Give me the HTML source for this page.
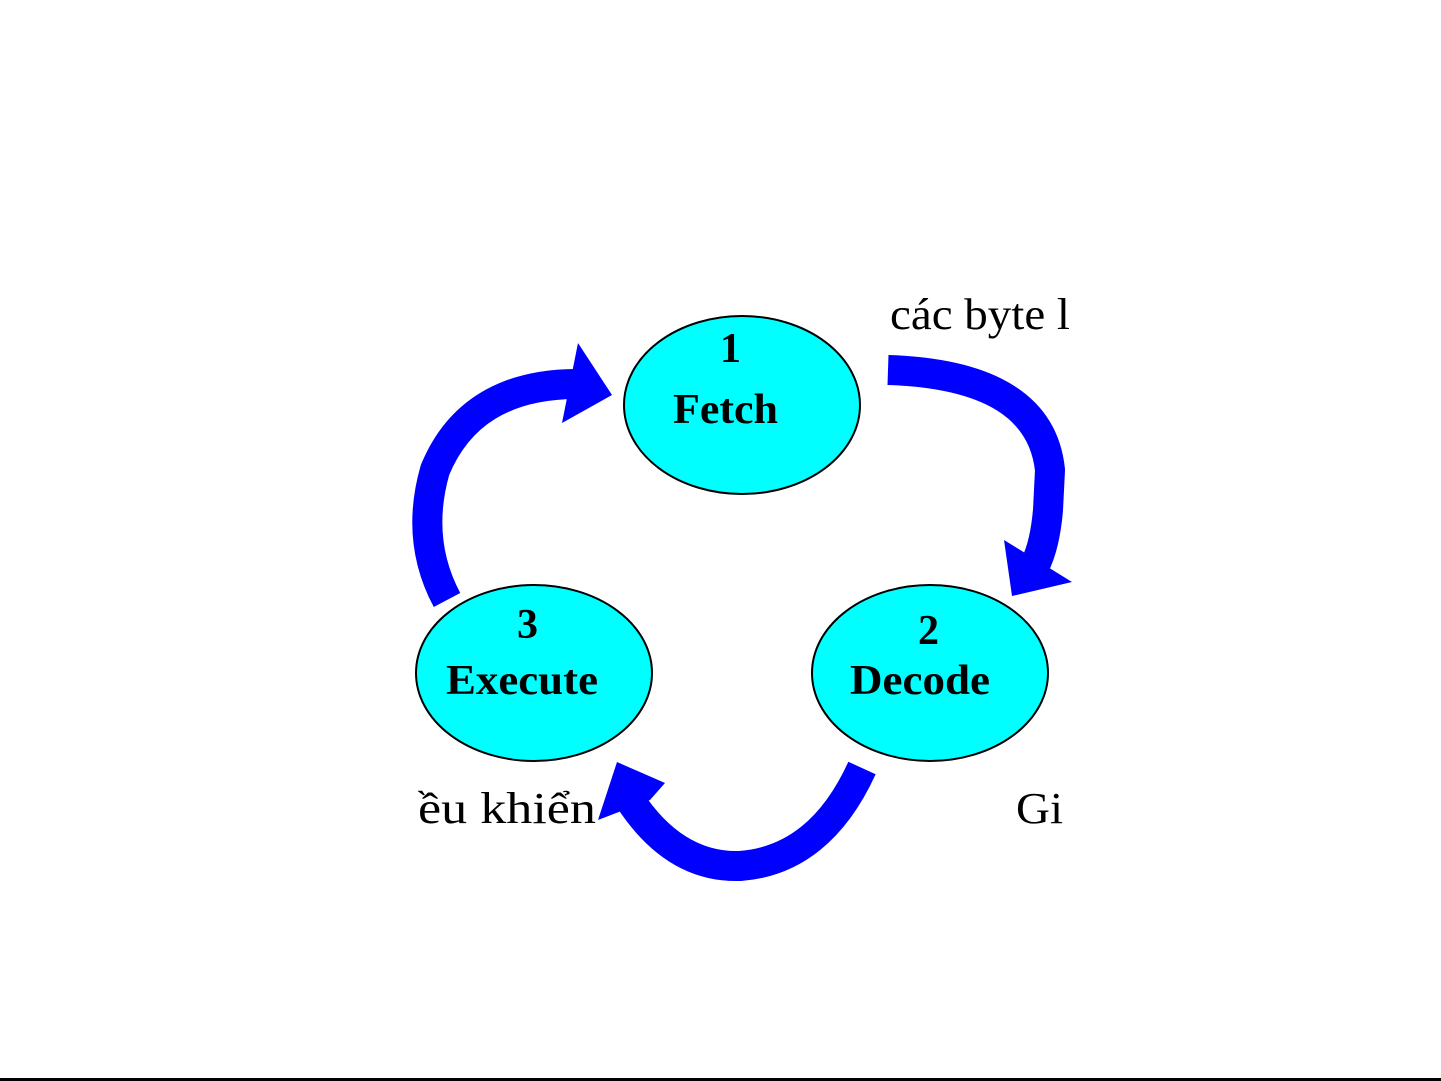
<!DOCTYPE html>
<html><head><meta charset="utf-8"><style>
html,body{margin:0;padding:0;background:#fff;width:1441px;height:1081px;overflow:hidden}
svg{display:block}
</style></head><body>
<svg width="1441" height="1081" viewBox="0 0 1441 1081" xmlns="http://www.w3.org/2000/svg">
<rect width="1441" height="1081" fill="#fff"/>
<g fill="none" stroke="#0000ff" stroke-width="30">
<path d="M888,370 Q1040,375 1050,470 L1048,510 Q1045,545 1035,565"/>
<path d="M447,600 Q415,540 435,470 Q470,385 575,384"/>
<path d="M862,768 Q820,860 740,866 Q675,868 630,800"/>
</g>
<g fill="#0000ff">
<polygon points="1004,540 1072,582 1012,596"/>
<polygon points="578,343 612,395 562,423"/>
<polygon points="617,762 665,783 650,800 598,820"/>
</g>
<g fill="#00ffff" stroke="#000" stroke-width="2">
<ellipse cx="742" cy="405" rx="118" ry="89"/>
<ellipse cx="534" cy="673" rx="118" ry="88"/>
<ellipse cx="930" cy="673" rx="118" ry="88"/>
</g>
<g font-family="Liberation Serif, serif" font-weight="bold" font-size="42" fill="#000">
<text x="720" y="362">1</text>
<text x="673" y="423" textLength="105" lengthAdjust="spacingAndGlyphs">Fetch</text>
<text x="517" y="638">3</text>
<text x="446" y="694" textLength="152" lengthAdjust="spacingAndGlyphs">Execute</text>
<text x="918" y="644">2</text>
<text x="850" y="694" textLength="140" lengthAdjust="spacingAndGlyphs">Decode</text>
</g>
<g font-family="Liberation Serif, 'DejaVu Serif', serif" font-size="44" fill="#000">
<text x="890" y="329" textLength="180" lengthAdjust="spacingAndGlyphs">các byte l</text>
<text x="418" y="823" textLength="178" lengthAdjust="spacingAndGlyphs">ều khiển</text>
<text x="1016" y="823" textLength="47" lengthAdjust="spacingAndGlyphs">Gi</text>
</g>
<rect x="0" y="1078" width="1441" height="3" fill="#000"/>
</svg>
</body></html>
